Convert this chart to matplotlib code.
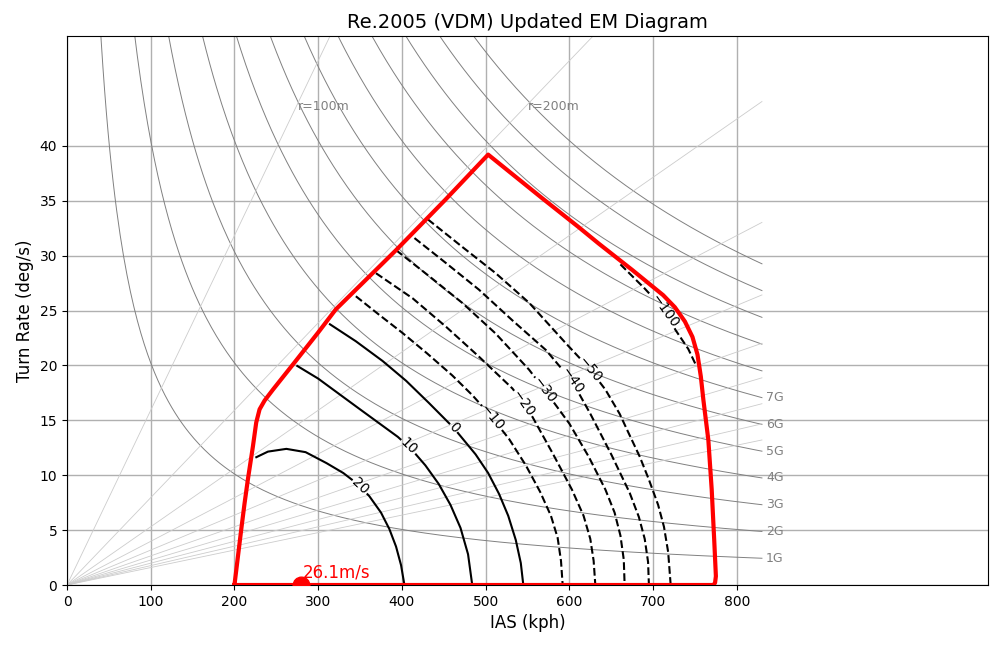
import numpy as np
import matplotlib
matplotlib.use("Agg")
import matplotlib.pyplot as plt
from matplotlib.contour import ContourSet

# ---------------- data ----------------
TITLE = "Re.2005 (VDM) Updated EM Diagram"
X_TICKS = list(range(0, 801, 100))
Y_TICKS = list(range(0, 41, 5))

G_LOADS = list(range(1, 13))          # load-factor hyperbolas (1G..12G)
G_LABELED = list(range(1, 8))         # labelled 1G..7G
RADII = list(range(100, 1001, 100))   # turn-radius lines (m)
RADII_LABELED = [100, 200]
V_REF_MAX = 830                       # kph, right end of reference lines

# envelope (IAS kph, turn rate deg/s)
env_v = [200, 204, 208, 212, 216, 222, 226, 230, 236, 246, 270, 300, 321,
         393, 452, 503, 568, 611, 635, 675, 712, 726, 738, 747, 753, 757,
         760, 766, 770, 773, 775, 774, 772, 200]
env_w = [0.0, 2.5, 5.0, 7.4, 9.6, 12.6, 14.8, 16.0, 16.8, 17.8, 20.1, 23.0,
         25.1, 30.5, 35.1, 39.2, 35.2, 32.6, 31.1, 28.7, 26.4, 25.3, 24.0,
         22.6, 21.0, 19.0, 16.9, 13.2, 8.7, 4.1, 0.8, 0.2, 0.0, 0.0]

# specific excess power contours (m/s)
ps_levels = [-100, -50, -40, -30, -20, -10, 0, 10, 20]

ps_p20_v = [225, 240, 262, 285, 310, 330, 347, 361, 375, 385, 393, 399, 403]
ps_p20_w = [11.6, 12.15, 12.4, 12.1, 11.1, 10.2, 9.2, 8.1, 6.6, 5.1, 3.5, 1.8, 0.0]

ps_p10_v = [274, 300, 325, 350, 377, 395, 411, 428, 444, 458, 470, 479, 484]
ps_p10_w = [20.0, 18.8, 17.4, 16.0, 14.5, 13.5, 12.4, 10.9, 9.2, 7.3, 5.2, 2.8, 0.0]

ps_0_v = [313, 345, 377, 405, 432, 462, 488, 503, 516, 527, 536, 542, 545]
ps_0_w = [23.8, 22.2, 20.4, 18.6, 16.6, 14.3, 11.9, 10.2, 8.3, 6.3, 4.1, 2.0, 0.0]

ps_m10_v = [345, 373, 400, 430, 460, 484, 504, 528, 548, 565, 578, 586, 590, 592]
ps_m10_w = [26.3, 24.6, 23.0, 21.1, 19.1, 17.3, 15.6, 13.3, 10.9, 8.5, 6.3, 4.3, 2.2, 0.0]

ps_m20_v = [369, 413, 453, 492, 532, 544, 556, 580, 603, 617, 625, 629, 631]
ps_m20_w = [28.4, 26.1, 23.5, 20.8, 17.9, 16.7, 15.3, 12.0, 8.7, 6.3, 4.2, 2.2, 0.0]

ps_m30_v = [393, 433, 472, 512, 552, 574, 600, 623, 643, 654, 661, 665, 666]
ps_m30_w = [30.5, 28.1, 25.7, 22.9, 19.6, 17.4, 14.7, 11.7, 8.7, 6.6, 4.5, 2.3, 0.0]

ps_m40_v = [415, 453, 492, 532, 572, 603, 625, 650, 672, 683, 690, 694, 695]
ps_m40_w = [31.6, 29.3, 26.9, 24.1, 21.4, 18.6, 15.6, 11.9, 8.4, 6.2, 4.2, 2.1, 0.0]

ps_m50_v = [431, 472, 512, 552, 596, 623, 643, 660, 671, 684, 695, 706, 713, 718, 721]
ps_m50_w = [33.3, 30.8, 28.4, 25.7, 22.0, 19.8, 17.8, 15.6, 13.8, 11.7, 9.6, 7.3, 5.3, 3.0, 0.0]

ps_m100_v = [661, 690, 713, 727, 742, 752]
ps_m100_w = [29.2, 27.0, 25.1, 23.2, 21.5, 19.9]

# contour label anchor points (IAS kph, deg/s)
label_v = [710, 625, 603, 573, 542, 504, 462, 409, 349]
label_w = [24.8, 19.6, 18.6, 17.9, 16.4, 15.0, 14.3, 12.7, 8.9]

# best-climb marker
climb_v = 279
climb_w = 0.0
climb_text = "26.1m/s"

# ---------------- figure ----------------
G = 9.81
fig = plt.figure(figsize=(10, 6.48), dpi=100)
ax = fig.add_axes([0.067, 0.0972, 0.921, 0.8472])

ax.set_xlim(0, 1100)
ax.set_ylim(0, 50)
ax.set_xticks(X_TICKS)
ax.set_yticks(Y_TICKS)
ax.grid(True, color="#b0b0b0", linewidth=1.0)
ax.set_axisbelow(True)

# load factor hyperbolas
v_kph = np.linspace(10, V_REF_MAX, 400)
v_ms = v_kph / 3.6
for n in G_LOADS:
    w = np.degrees(n * G / v_ms)
    ax.plot(v_kph, w, color="gray", lw=0.7, zorder=1.6)
for n in G_LABELED:
    w_end = np.degrees(n * G / (V_REF_MAX / 3.6))
    ax.text(V_REF_MAX + 5, w_end, f"{n}G", color="gray", fontsize=9,
            ha="left", va="center")

# turn radius lines
v_line = np.array([0.0, V_REF_MAX])
for r in RADII:
    w = np.degrees(v_line / 3.6 / r)
    ax.plot(v_line, w, color="#cccccc", lw=0.6, zorder=1.6)
for r in RADII_LABELED:
    w_lab = 43.6
    v_lab = np.radians(w_lab) * r * 3.6
    ax.text(v_lab + 2, w_lab, f"r={r}m", color="gray", fontsize=9,
            ha="left", va="center")

# Ps contours
ps_v = [ps_m100_v, ps_m50_v, ps_m40_v, ps_m30_v, ps_m20_v, ps_m10_v,
        ps_0_v, ps_p10_v, ps_p20_v]
ps_w = [ps_m100_w, ps_m50_w, ps_m40_w, ps_m30_w, ps_m20_w, ps_m10_w,
        ps_0_w, ps_p10_w, ps_p20_w]
allsegs = [[np.column_stack([v, w])] for v, w in zip(ps_v, ps_w)]
cs = ContourSet(ax, ps_levels, allsegs, colors="k", linewidths=1.5)
ax.clabel(cs, inline=True, inline_spacing=1, fontsize=10,
          manual=list(zip(label_v, label_w)))

# envelope
ax.plot(env_v, env_w, color="red", lw=3, zorder=4, solid_joinstyle="round")

# best climb point
ax.plot([climb_v], [climb_w], "o", color="red", ms=12, zorder=5)
ax.text(climb_v + 2, climb_w + 0.3, climb_text, color="red", fontsize=12,
        ha="left", va="bottom", zorder=5)

ax.set_title(TITLE, fontsize=14)
ax.set_xlabel("IAS (kph)", fontsize=12)
ax.set_ylabel("Turn Rate (deg/s)", fontsize=12)

fig.savefig("out.png", dpi=100)
